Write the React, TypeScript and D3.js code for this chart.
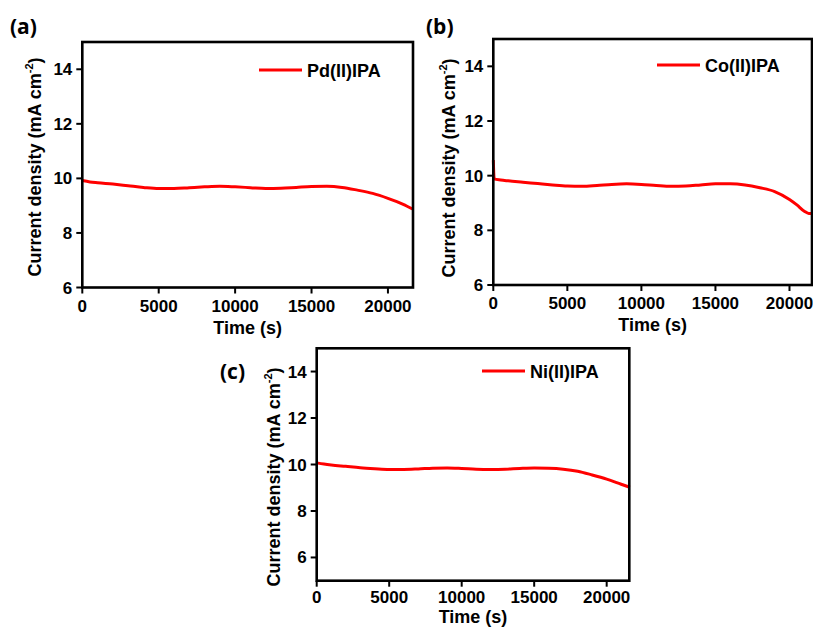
import React from "react";
import * as d3 from "d3";

// ---------- data ----------
const timePd = [0, 500, 1000, 2000, 3000, 4000, 5000, 6000, 7000, 8000, 9000, 10000, 11000, 12000, 13000, 14000, 15000, 16000, 17000, 18000, 19000, 20000, 21000, 21600];
const currentPd = [9.92, 9.87, 9.84, 9.79, 9.73, 9.67, 9.63, 9.63, 9.66, 9.69, 9.71, 9.69, 9.66, 9.63, 9.64, 9.67, 9.70, 9.71, 9.67, 9.57, 9.45, 9.27, 9.05, 8.88];

const timeCo = [0, 60, 500, 1000, 2000, 3000, 4000, 5000, 6000, 7000, 8000, 9000, 10000, 11000, 12000, 13000, 14000, 15000, 16000, 17000, 18000, 19000, 20000, 20500, 21000, 21300, 21600];
const currentCo = [10.57, 9.88, 9.84, 9.81, 9.76, 9.71, 9.66, 9.62, 9.61, 9.64, 9.68, 9.70, 9.68, 9.64, 9.61, 9.62, 9.66, 9.70, 9.70, 9.66, 9.56, 9.42, 9.13, 8.93, 8.70, 8.62, 8.62];

const timeNi = [0, 500, 1000, 2000, 3000, 4000, 5000, 6000, 7000, 8000, 9000, 10000, 11000, 12000, 13000, 14000, 15000, 16000, 17000, 18000, 19000, 20000, 21000, 21600];
const currentNi = [10.07, 10.02, 9.98, 9.92, 9.86, 9.82, 9.79, 9.79, 9.81, 9.84, 9.85, 9.83, 9.80, 9.79, 9.80, 9.83, 9.85, 9.84, 9.80, 9.71, 9.55, 9.37, 9.15, 9.02];

const xTicks = [0, 5000, 10000, 15000, 20000];
const yTicks = [6, 8, 10, 12, 14];
const seriesNames = ["Pd(II)IPA", "Co(II)IPA", "Ni(II)IPA"];
const panelLabels = ["(a)", "(b)", "(c)"];
const xTitle = "Time (s)";

// ---------- layout ----------
type Panel = {
  label: string; name: string; t: number[]; v: number[];
  left: number; right: number; top: number; bottom: number;
  xMax: number; yMin: number; yMax: number;
  labelX: number; labelY: number;
  legX: number; legY: number; yTitleOff: number; yTitleCenter: number;
  xTickOff: number; xTitleOff: number;
};

const panels: Panel[] = [
  { label: panelLabels[0], name: seriesNames[0], t: timePd, v: currentPd,
    left: 82.3, right: 413, top: 42, bottom: 287.5, xMax: 21640, yMin: 6, yMax: 15,
    labelX: 10, labelY: 34, legX: 259, legY: 70, yTitleOff: 41, yTitleCenter: 167, xTickOff: 24, xTitleOff: 46 },
  { label: panelLabels[1], name: seriesNames[1], t: timeCo, v: currentCo,
    left: 493.3, right: 812, top: 39, bottom: 285, xMax: 21520, yMin: 6, yMax: 15,
    labelX: 426, labelY: 34, legX: 657, legY: 65, yTitleOff: 38, yTitleCenter: 168, xTickOff: 24, xTitleOff: 46 },
  { label: panelLabels[2], name: seriesNames[2], t: timeNi, v: currentNi,
    left: 316.7, right: 629.3, top: 348.3, bottom: 580.7, xMax: 21560, yMin: 5, yMax: 15,
    labelX: 220, labelY: 379, legX: 482, legY: 371, yTitleOff: 37, yTitleCenter: 477, xTickOff: 22, xTitleOff: 42.5 },
];

const FONT = "'Liberation Sans', Arial, sans-serif";
const RED = "#ff0000";

function PanelView({ p }: { p: Panel }) {
  const x = d3.scaleLinear().domain([0, p.xMax]).range([p.left, p.right]);
  const y = d3.scaleLinear().domain([p.yMin, p.yMax]).range([p.bottom, p.top]);
  const line = d3.line<number>()
    .x((_, i) => x(p.t[i]))
    .y((d) => y(d))
    .curve(d3.curveMonotoneX);
  const tickLen = 6;
  const cx = (p.left + p.right) / 2;
  return (
    <g>
      <text x={p.labelX} y={p.labelY} fontFamily="'Open Sans', sans-serif" fontWeight={700} fontSize={21} fill="#000">{p.label}</text>
      {/* line */}
      <path d={line(p.v) || ""} fill="none" stroke={RED} strokeWidth={3} />
      {/* frame */}
      <rect x={p.left} y={p.top} width={p.right - p.left} height={p.bottom - p.top} fill="none" stroke="#000" strokeWidth={2.6} />
      {/* y ticks */}
      {yTicks.map((t) => (
        <g key={"y" + t}>
          <line x1={p.left - tickLen} x2={p.left} y1={y(t)} y2={y(t)} stroke="#000" strokeWidth={2} />
          <text x={p.left - 10} y={y(t) + 6} textAnchor="end" fontFamily={FONT} fontWeight={700} fontSize={17}>{t}</text>
        </g>
      ))}
      {/* x ticks */}
      {xTicks.map((t) => (
        <g key={"x" + t}>
          <line x1={x(t)} x2={x(t)} y1={p.bottom} y2={p.bottom + tickLen} stroke="#000" strokeWidth={2} />
          <text x={x(t)} y={p.bottom + p.xTickOff} textAnchor="middle" fontFamily={FONT} fontWeight={700} fontSize={17}>{t}</text>
        </g>
      ))}
      {/* axis titles */}
      <text x={cx} y={p.bottom + p.xTitleOff} textAnchor="middle" fontFamily={FONT} fontWeight={700} fontSize={18}>{xTitle}</text>
      <text transform={`translate(${p.left - p.yTitleOff},${p.yTitleCenter}) rotate(-90)`} textAnchor="middle" fontFamily={FONT} fontWeight={700} fontSize={18}>
        Current density (mA cm<tspan dy={-8} fontSize={11}>-2</tspan><tspan dy={8}>)</tspan>
      </text>
      {/* legend */}
      <line x1={p.legX} x2={p.legX + 43} y1={p.legY} y2={p.legY} stroke={RED} strokeWidth={3} />
      <text x={p.legX + 48} y={p.legY + 7} fontFamily={FONT} fontWeight={700} fontSize={18}>{p.name}</text>
    </g>
  );
}

export default function App() {
  return (
    <svg width={813} height={627} style={{ position: "absolute", left: 0, top: 0, background: "#fff" }}>
      <rect x={0} y={0} width={813} height={627} fill="#fff" />
      {panels.map((p) => <PanelView key={p.label} p={p} />)}
    </svg>
  );
}
